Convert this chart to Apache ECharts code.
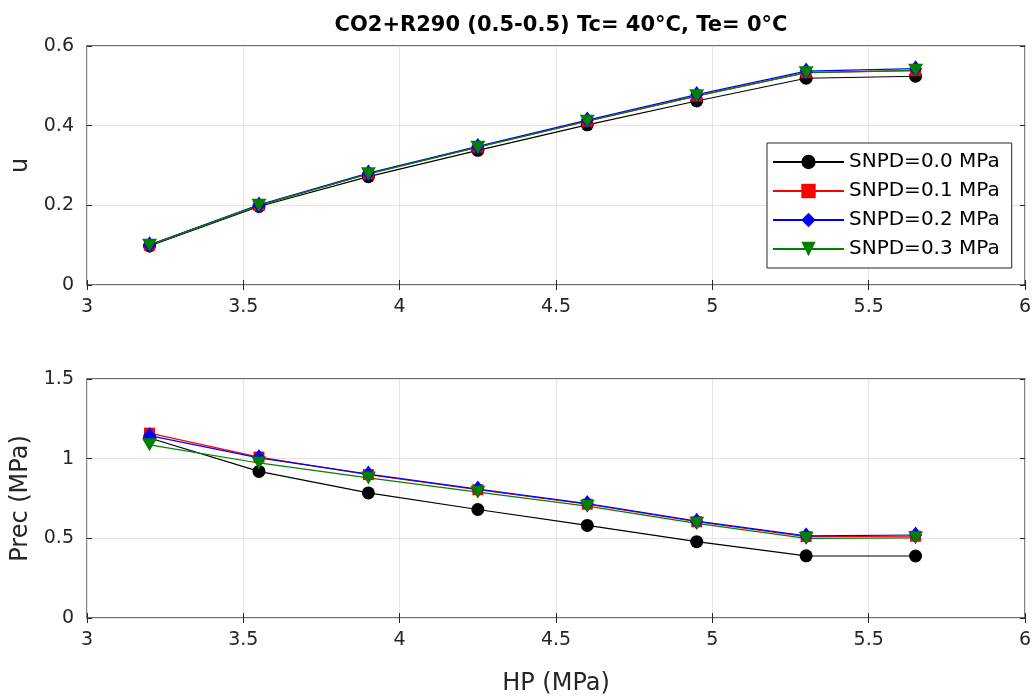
<!DOCTYPE html>
<html><head><meta charset="utf-8">
<script src="https://cdn.jsdelivr.net/npm/echarts@6/dist/echarts.min.js"></script>
<style>html,body{margin:0;padding:0;background:#fff}#c{width:1035px;height:697px}</style>
</head><body><div id="c"></div>
<script>
// ---- data ----
const hp = [3.2, 3.55, 3.9, 4.25, 4.6, 4.95, 5.3, 5.65];
const seriesNames = ['SNPD=0.0 MPa', 'SNPD=0.1 MPa', 'SNPD=0.2 MPa', 'SNPD=0.3 MPa'];
const u_00 = [0.098, 0.197, 0.272, 0.338, 0.402, 0.462, 0.519, 0.524];
const u_01 = [0.100, 0.200, 0.279, 0.346, 0.411, 0.474, 0.533, 0.538];
const u_02 = [0.101, 0.201, 0.281, 0.348, 0.414, 0.478, 0.537, 0.543];
const u_03 = [0.100, 0.200, 0.279, 0.346, 0.411, 0.475, 0.533, 0.539];
const prec_00 = [1.13, 0.92, 0.785, 0.681, 0.581, 0.479, 0.390, 0.389];
const prec_01 = [1.16, 1.01, 0.900, 0.805, 0.714, 0.604, 0.511, 0.513];
const prec_02 = [1.145, 1.005, 0.903, 0.809, 0.718, 0.608, 0.516, 0.521];
const prec_03 = [1.087, 0.973, 0.879, 0.790, 0.702, 0.594, 0.500, 0.503];
const xTicks = [3, 3.5, 4, 4.5, 5, 5.5, 6];
const uTicks = [0, 0.2, 0.4, 0.6];
const precTicks = [0, 0.5, 1, 1.5];
const titleText = 'CO2+R290 (0.5-0.5) Tc= 40°C, Te= 0°C';

// ---- styles ----
const FONT = 'DejaVu Sans';
const AX = '#262626';
const colors = ['#000000', '#ff0000', '#0000ff', '#008000'];
const symbols = ['circle', 'rect', 'diamond', 'triangle'];
const symSizes = [13, 11, [13, 17], [15, 13]];
const symRot = [0, 0, 0, 180];

const uSets = [u_00, u_01, u_02, u_03];
const pSets = [prec_00, prec_01, prec_02, prec_03];

function step(arr) { return arr[1] - arr[0]; }

function mainX(gi, showName) {
  return {
    type: 'value', gridIndex: gi, position: 'bottom',
    min: xTicks[0], max: xTicks[xTicks.length - 1], interval: step(xTicks),
    axisLine: { show: false },
    axisTick: { show: true, inside: true, length: 5, lineStyle: { color: AX } },
    axisLabel: { color: AX, fontFamily: FONT, fontSize: 19, margin: 13 },
    splitLine: { show: true, lineStyle: { color: '#e4e4e4', width: 1 } },
    name: showName ? 'HP (MPa)' : '', nameLocation: 'middle', nameGap: 54,
    nameTextStyle: { color: AX, fontFamily: FONT, fontSize: 24 }
  };
}
function topX(gi) {
  return {
    type: 'value', gridIndex: gi, position: 'top',
    min: xTicks[0], max: xTicks[xTicks.length - 1], interval: step(xTicks),
    axisLine: { show: false }, axisLabel: { show: false }, splitLine: { show: false },
    axisTick: { show: true, inside: true, length: 5, lineStyle: { color: AX } }
  };
}
function mainY(gi, ticks, name) {
  return {
    type: 'value', gridIndex: gi, position: 'left',
    min: ticks[0], max: ticks[ticks.length - 1], interval: step(ticks),
    axisLine: { show: false },
    axisTick: { show: true, inside: true, length: 5, lineStyle: { color: AX } },
    axisLabel: { color: AX, fontFamily: FONT, fontSize: 19, margin: 13 },
    splitLine: { show: true, lineStyle: { color: '#e4e4e4', width: 1 } },
    name: name, nameLocation: 'middle', nameGap: 50, nameRotate: 90,
    nameTextStyle: { color: AX, fontFamily: FONT, fontSize: 24 }
  };
}
function rightY(gi, ticks) {
  return {
    type: 'value', gridIndex: gi, position: 'right',
    min: ticks[0], max: ticks[ticks.length - 1], interval: step(ticks),
    axisLine: { show: false }, axisLabel: { show: false }, splitLine: { show: false },
    axisTick: { show: true, inside: true, length: 5, lineStyle: { color: AX } }
  };
}

const series = [];
function addSeries(sets, xi, yi) {
  sets.forEach((vals, k) => {
    series.push({
      type: 'line', name: seriesNames[k], xAxisIndex: xi, yAxisIndex: yi,
      data: hp.map((x, i) => [x, vals[i]]),
      symbol: symbols[k], symbolSize: symSizes[k], symbolRotate: symRot[k],
      showAllSymbol: true, animation: false,
      lineStyle: { color: colors[k], width: 1.2 },
      itemStyle: { color: colors[k], borderWidth: 0 },
      emphasis: { disabled: true }
    });
  });
}
addSeries(uSets, 0, 0);
addSeries(pSets, 1, 1);

const option = {
  backgroundColor: '#ffffff',
  animation: false,
  title: {
    text: titleText, left: 556, top: 10, textAlign: 'center',
    textStyle: { fontFamily: FONT, fontSize: 21, fontWeight: 'bold', color: '#000' }
  },
  grid: [
    { left: 87, right: 10, top: 46, height: 239, show: true, borderColor: '#404040', borderWidth: 1.3, backgroundColor: '#fff' },
    { left: 87, right: 10, top: 379, height: 240, show: true, borderColor: '#404040', borderWidth: 1.3, backgroundColor: '#fff' }
  ],
  xAxis: [mainX(0, false), mainX(1, true), topX(0), topX(1)],
  yAxis: [mainY(0, uTicks, 'u'), mainY(1, precTicks, 'Prec (MPa)'), rightY(0, uTicks), rightY(1, precTicks)],
  legend: {
    data: seriesNames, orient: 'vertical', left: 767, top: 143,
    itemWidth: 71, itemHeight: 18, itemGap: 5,
    padding: [7, 12, 7, 5],
    backgroundColor: '#fff', borderColor: AX, borderWidth: 1, borderRadius: 0,
    textStyle: { fontFamily: FONT, fontSize: 20, color: '#000', lineHeight: 24 },
    selectedMode: false
  },
  series: series
};
const chart = echarts.init(document.getElementById('c'), null, { renderer: 'canvas' });
chart.setOption(option);
</script></body></html>
